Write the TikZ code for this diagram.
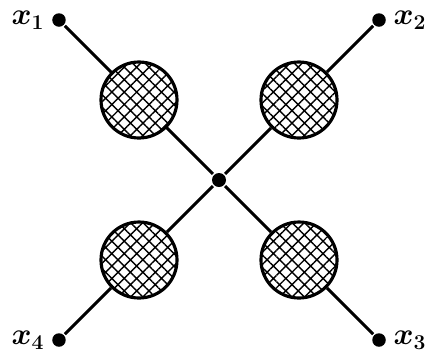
\documentclass[tikz,border=0pt]{standalone}
\usepackage{amsmath,amssymb}
\usepackage{bm}
\usetikzlibrary{positioning,patterns.meta}

\tikzset{
  blob/.style={circle,draw,line width=1.8pt,minimum size=1.52cm,inner sep=0pt,
    pattern={Hatch[angle=45,distance=5pt,line width=0.8pt]}},
  leg/.style={circle,fill,inner sep=0pt,minimum size=0.27cm},
  lbl/.style={font=\fontsize{18}{20}\selectfont,inner sep=0pt}
}

\begin{document}
\begin{tikzpicture}[node distance=1.6cm and 1.6cm,on grid,line width=1.7pt]
  \useasboundingbox (-4.38,-3.46) rectangle (4.14,3.6);
  \node[leg,minimum size=0.28cm] (O) at (0,0) {};
  % the four blobs
  \node[blob,above left=of O] (B1) {};
  \node[blob,above right=of O] (B2) {};
  \node[blob,below right=of O] (B3) {};
  \node[blob,below left=of O] (B4) {};
  % external legs
  \node[leg,above left=of B1] (P1) {};
  \node[leg,above right=of B2] (P2) {};
  \node[leg,below right=of B3] (P3) {};
  \node[leg,below left=of B4] (P4) {};
  \node[lbl,left=0.62cm of P1] (L1) {$\bm{x_1}$};
  \node[lbl,right=0.62cm of P2] (L2) {$\bm{x_2}$};
  \node[lbl,right=0.62cm of P3] (L3) {$\bm{x_3}$};
  \node[lbl,left=0.62cm of P4] (L4) {$\bm{x_4}$};
  \foreach \i in {1,2,3,4}{
    \draw (P\i) -- (B\i);
    \draw (B\i) -- (O);
  }
\end{tikzpicture}
\end{document}
